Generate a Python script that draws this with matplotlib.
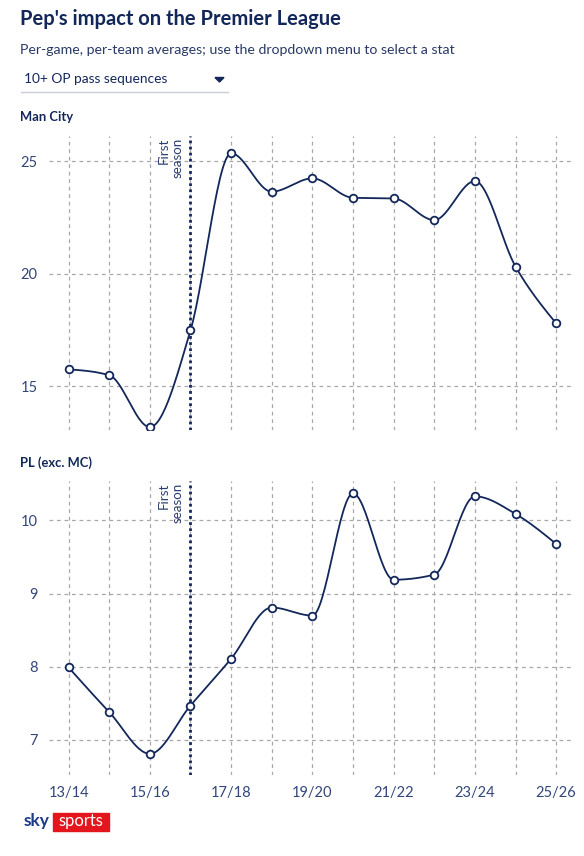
import numpy as np
import matplotlib.pyplot as plt
from matplotlib.patches import Rectangle, Polygon

seasons = ['13/14', '14/15', '15/16', '16/17', '17/18', '18/19', '19/20',
           '20/21', '21/22', '22/23', '23/24', '24/25', '25/26']
man_city = [15.76, 15.5, 13.2, 17.49, 25.34, 23.64, 24.23, 23.37, 23.34,
            22.38, 24.11, 20.32, 17.8]
pl_exc_mc = [7.99, 7.38, 6.81, 7.47, 8.11, 8.81, 8.70, 10.37, 9.19, 9.26,
             10.33, 10.09, 9.68]
first_season = '16/17'

NAVY = '#13275a'
TICK = '#33467a'
GRID = '#a8a8a8'
plt.rcParams['font.family'] = ['Lato', 'DejaVu Sans']


def monotone_x(y, n=30):
    # d3 curveMonotoneX style smoothing
    y = np.asarray(y, float)
    x = np.arange(len(y), dtype=float)
    s = np.diff(y)
    t = np.zeros_like(y)
    for i in range(1, len(y) - 1):
        s0, s1 = s[i - 1], s[i]
        p = (s0 + s1) / 2
        t[i] = (np.sign(s0) + np.sign(s1)) * min(abs(s0), abs(s1), 0.5 * abs(p))
    t[0] = (3 * s[0] - t[1]) / 2
    t[-1] = (3 * s[-1] - t[-2]) / 2
    xs, ys = [], []
    u = np.linspace(0, 1, n)
    for i in range(len(y) - 1):
        h00 = 2 * u**3 - 3 * u**2 + 1
        h10 = u**3 - 2 * u**2 + u
        h01 = -2 * u**3 + 3 * u**2
        h11 = u**3 - u**2
        xs.append(x[i] + u)
        ys.append(h00 * y[i] + h10 * t[i] + h01 * y[i + 1] + h11 * t[i + 1])
    return np.concatenate(xs), np.concatenate(ys)


fig = plt.figure(figsize=(5.84, 8.56), dpi=100)
W, H = 584, 856

fig.text(20 / W, 1 - 19 / H, "Pep's impact on the Premier League", fontsize=14.5,
         fontweight='bold', color=NAVY, va='center')
fig.text(20 / W, 1 - 50 / H, 'Per-game, per-team averages; use the dropdown menu to select a stat',
         fontsize=10.2, color='#2a3a66', va='center')
fig.text(24 / W, 1 - 79 / H, '10+ OP pass sequences', fontsize=9.9, color=NAVY,
         va='center')
fig.add_artist(Polygon([[215 / W, 1 - 77.5 / H], [224 / W, 1 - 77.5 / H], [219.5 / W, 1 - 82 / H]],
                       closed=True, color=NAVY, transform=fig.transFigure))
fig.add_artist(plt.Line2D([21 / W, 228 / W], [1 - 92 / H, 1 - 92 / H], color='#c8ccd4',
                          lw=1, transform=fig.transFigure))

x = np.arange(len(seasons))
fs = seasons.index(first_season)

ax_left, ax_width = 48.7 / W, (572.8 - 48.7) / W
panels = [
    ('Man City', man_city, [ax_left, (H - 430) / H, ax_width, 294 / H], (13.07, 26.11), [15, 20, 25], 117),
    ('PL (exc. MC)', pl_exc_mc, [ax_left, (H - 775) / H, ax_width, 294 / H], (6.52, 10.54), [7, 8, 9, 10], 463),
]

for i, (name, vals, pos, ylim, yticks, label_y) in enumerate(panels):
    ax = fig.add_axes(pos)
    fig.text(20 / W, 1 - label_y / H, name, fontsize=9.4, fontweight='bold',
             color=NAVY, va='center')
    ax.set_xlim(-0.49, 12.41)
    ax.set_ylim(*ylim)
    ax.set_yticks(yticks)
    ax.set_xticks(x)
    if i == 1:
        ax.set_xticklabels([s if k % 2 == 0 else '' for k, s in enumerate(seasons)])
    else:
        ax.set_xticklabels([])
    ax.grid(True, color=GRID, linestyle=(0, (3, 3)), lw=0.9)
    ax.set_axisbelow(True)
    for sp in ax.spines.values():
        sp.set_visible(False)
    ax.tick_params(length=0, labelsize=10.5, labelcolor=TICK, pad=8)

    ax.axvline(fs, color=NAVY, lw=2, linestyle=(0, (1, 1.2)), zorder=2)
    ax.text(fs - 0.17, ylim[1] - (ylim[1] - ylim[0]) * 0.007, 'First\nseason',
            rotation=90, ha='right', va='top', multialignment='right',
            fontsize=9.6, color='#2a3d70', linespacing=1.15)

    sx, sy = monotone_x(vals)
    ax.plot(sx, sy, color=NAVY, lw=1.3, zorder=3)
    ax.plot(x, vals, 'o', ms=5.5, mfc='white', mec=NAVY, mew=1.3, zorder=4)

# sky sports logo
fig.text(24 / W, 1 - 821 / H, 'sky', fontsize=12.5, fontweight='bold', color='#1d3a8a',
         va='center', ha='left')
fig.add_artist(Rectangle((53 / W, 1 - 831 / H), 56 / W, 18 / H, color='#e3161e',
                         transform=fig.transFigure))
fig.text(81 / W, 1 - 821 / H, 'sports', fontsize=12, color='white', va='center',
         ha='center')

fig.savefig('out.png', dpi=100, facecolor='white')
